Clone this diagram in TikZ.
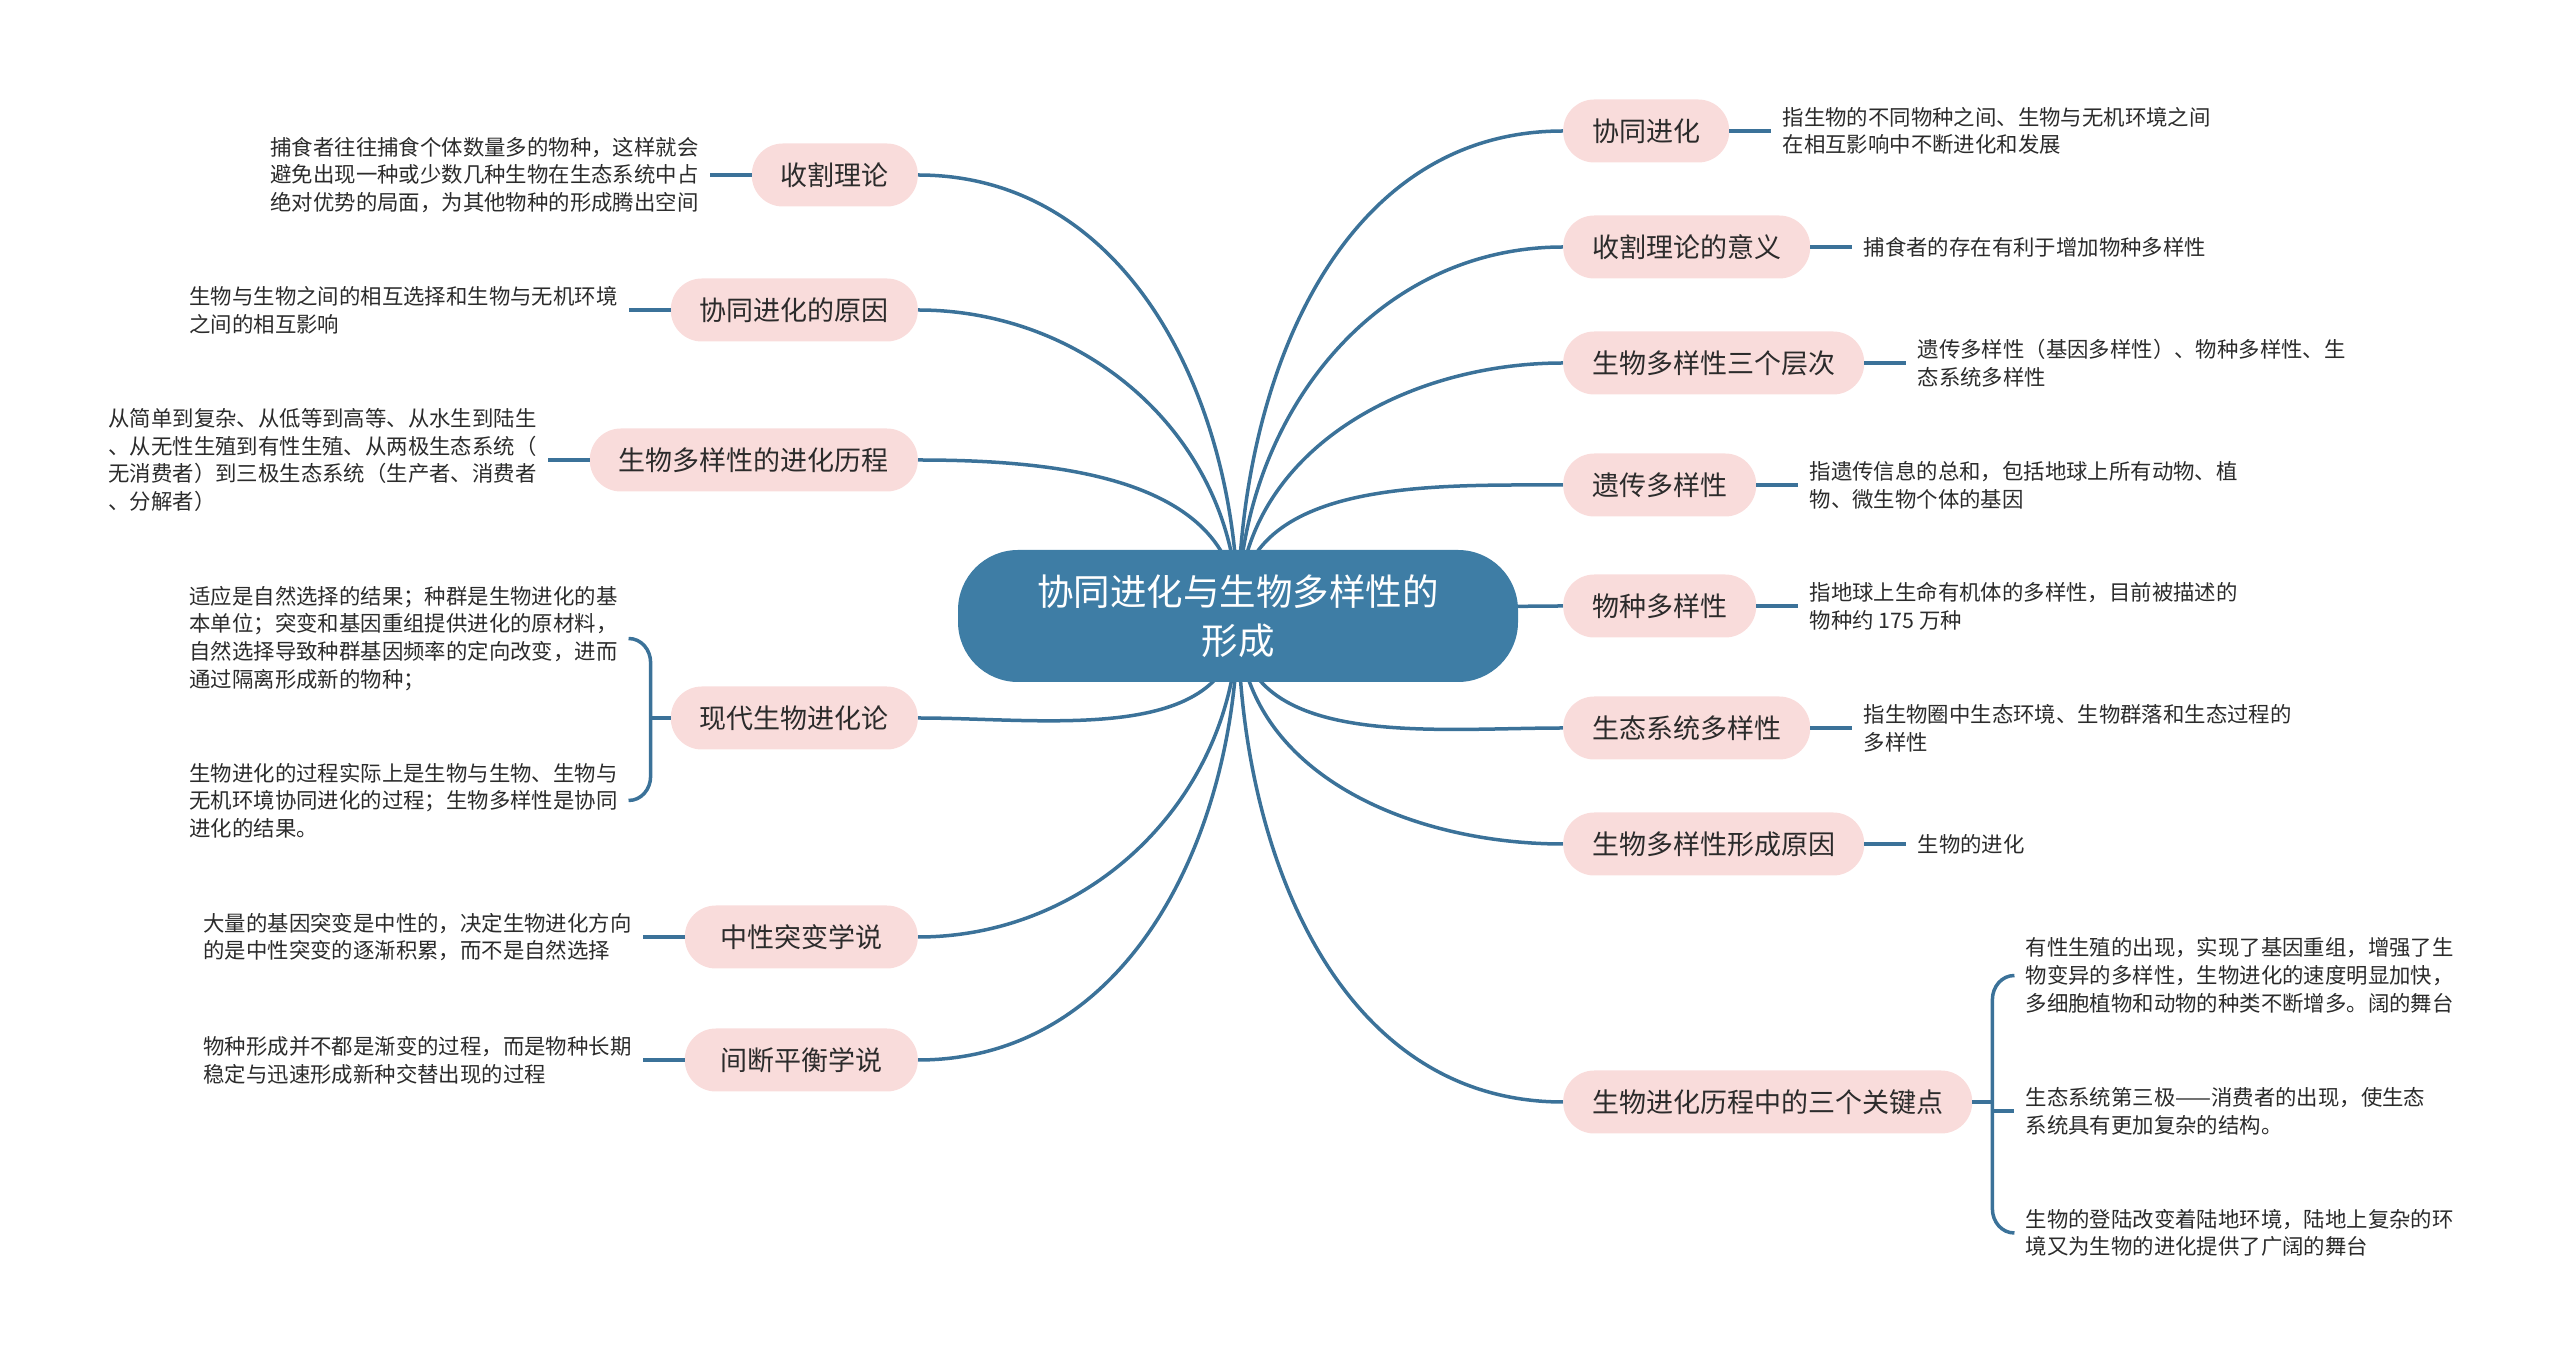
\documentclass[tikz,border=0pt]{standalone}
\usepackage{fontspec}
\setmainfont{Noto Sans CJK SC}
\usetikzlibrary{calc,backgrounds}

\definecolor{rootblue}{HTML}{3E7DA5}
\definecolor{linkblue}{HTML}{3B7299}
\definecolor{topicpink}{HTML}{F9DCDB}
\definecolor{ink}{HTML}{2B2B2B}

\begin{document}
\begin{tikzpicture}[
  x=1pt, y=1pt,
  root/.style={rectangle, rounded corners=60pt, fill=rootblue, text=white, minimum width=560pt, minimum height=132pt, align=center, font=\fontsize{36.5}{49}\selectfont},
  topic/.style={rectangle, rounded corners=31pt, fill=topicpink, text=ink, minimum height=63pt, inner xsep=29pt, inner ysep=0pt, font=\fontsize{27}{32}\selectfont},
  note/.style={align=left, text=ink, inner xsep=11pt, inner ysep=2pt, font=\fontsize{21.4}{27.7}\selectfont},
  link/.style={draw=linkblue, line width=3.5pt}
  ]
  \useasboundingbox (0,0) rectangle (2560,1361);

  \node[root] (c) at (1238,745) {协同进化与生物多样性的\\形成};

  % right side topics
  \node[topic, anchor=west] (r1) at (1563,1230) {协同进化};
  \node[topic, anchor=west] (r2) at (1563,1114) {收割理论的意义};
  \node[topic, anchor=west] (r3) at (1563,998) {生物多样性三个层次};
  \node[topic, anchor=west] (r4) at (1563,876) {遗传多样性};
  \node[topic, anchor=west] (r5) at (1563,755) {物种多样性};
  \node[topic, anchor=west] (r6) at (1563,633) {生态系统多样性};
  \node[topic, anchor=west] (r7) at (1563,517) {生物多样性形成原因};
  \node[topic, anchor=west] (r8) at (1563,259) {生物进化历程中的三个关键点};

  % left side topics
  \node[topic, anchor=east] (l1) at (918,1186) {收割理论};
  \node[topic, anchor=east] (l2) at (918,1051) {协同进化的原因};
  \node[topic, anchor=east] (l3) at (918,901) {生物多样性的进化历程};
  \node[topic, anchor=east] (l4) at (918,643) {现代生物进化论};
  \node[topic, anchor=east, minimum width=233pt] (l5) at (918,424) {中性突变学说};
  \node[topic, anchor=east, minimum width=233pt] (l6) at (918,301) {间断平衡学说};

  % notes on the right
  \node[note, anchor=west] (r1t) at ([shift={(42,0)}]r1.east) {指生物的不同物种之间、生物与无机环境之间\\在相互影响中不断进化和发展};
  \node[note, anchor=west] (r2t) at ([shift={(42,0)}]r2.east) {捕食者的存在有利于增加物种多样性};
  \node[note, anchor=west] (r3t) at ([shift={(42,0)}]r3.east) {遗传多样性（基因多样性）、物种多样性、生\\态系统多样性};
  \node[note, anchor=west] (r4t) at ([shift={(42,0)}]r4.east) {指遗传信息的总和，包括地球上所有动物、植\\物、微生物个体的基因};
  \node[note, anchor=west] (r5t) at ([shift={(42,0)}]r5.east) {指地球上生命有机体的多样性，目前被描述的\\物种约 175 万种};
  \node[note, anchor=west] (r6t) at ([shift={(42,0)}]r6.east) {指生物圈中生态环境、生物群落和生态过程的\\多样性};
  \node[note, anchor=west] (r7t) at ([shift={(42,0)}]r7.east) {生物的进化};

  % three notes of r8, held by a bracket
  \node[note, anchor=west] (r8a) at ([shift={(42,126.5)}]r8.east) {有性生殖的出现，实现了基因重组，增强了生\\物变异的多样性，生物进化的速度明显加快，\\多细胞植物和动物的种类不断增多。阔的舞台};
  \node[note, anchor=west] (r8b) at ([shift={(42,-9)}]r8.east) {生态系统第三极——消费者的出现，使生态\\系统具有更加复杂的结构。};
  \node[note, anchor=west] (r8c) at ([shift={(42,-131)}]r8.east) {生物的登陆改变着陆地环境，陆地上复杂的环\\境又为生物的进化提供了广阔的舞台};
  \coordinate (r8k) at ([shift={(20,0)}]r8.east);

  % notes on the left
  \node[note, anchor=east] (l1t) at ([shift={(-42,0)}]l1.west) {捕食者往往捕食个体数量多的物种，这样就会\\避免出现一种或少数几种生物在生态系统中占\\绝对优势的局面，为其他物种的形成腾出空间};
  \node[note, anchor=east] (l2t) at ([shift={(-42,0)}]l2.west) {生物与生物之间的相互选择和生物与无机环境\\之间的相互影响};
  \node[note, anchor=east] (l3t) at ([shift={(-42,0)}]l3.west) {从简单到复杂、从低等到高等、从水生到陆生\\、从无性生殖到有性生殖、从两极生态系统（\\无消费者）到三极生态系统（生产者、消费者\\、分解者）};
  \node[note, anchor=east] (l4a) at ([shift={(-42,79.5)}]l4.west) {适应是自然选择的结果；种群是生物进化的基\\本单位；突变和基因重组提供进化的原材料，\\自然选择导致种群基因频率的定向改变，进而\\通过隔离形成新的物种；};
  \node[note, anchor=east] (l4b) at ([shift={(-42,-82.5)}]l4.west) {生物进化的过程实际上是生物与生物、生物与\\无机环境协同进化的过程；生物多样性是协同\\进化的结果。};
  \coordinate (l4k) at ([shift={(-20,0)}]l4.west);
  \node[note, anchor=east] (l5t) at ([shift={(-42,0)}]l5.west) {大量的基因突变是中性的，决定生物进化方向\\的是中性突变的逐渐积累，而不是自然选择};
  \node[note, anchor=east] (l6t) at ([shift={(-42,0)}]l6.west) {物种形成并不都是渐变的过程，而是物种长期\\稳定与迅速形成新种交替出现的过程};

  % branches from the centre, kept under the root
  \begin{scope}[on background layer]
    \draw[link] (c.center) to[out=90, in=180] (r1.west);
    \draw[link] (c.center) to[out=90, in=180] (r2.west);
    \draw[link] (c.center) to[out=90, in=180] (r3.west);
    \draw[link] (c.center) to[out=90, in=180] (r4.west);
    \draw[link] (c.center) to[out=0, in=180] (r5.west);
    \draw[link] (c.center) to[out=270, in=180] (r6.west);
    \draw[link] (c.center) to[out=270, in=180] (r7.west);
    \draw[link] (c.center) to[out=270, in=180] (r8.west);

    \draw[link] (c.center) to[out=90, in=0] (l1.east);
    \draw[link] (c.center) to[out=90, in=0] (l2.east);
    \draw[link] (c.center) to[out=90, in=0] (l3.east);
    \draw[link] (c.center) to[out=270, in=0] (l4.east);
    \draw[link] (c.center) to[out=270, in=0] (l5.east);
    \draw[link] (c.center) to[out=270, in=0] (l6.east);
  \end{scope}

  % topic to note
  \draw[link] (r1.east) -- (r1t.west);
  \draw[link] (r2.east) -- (r2t.west);
  \draw[link] (r3.east) -- (r3t.west);
  \draw[link] (r4.east) -- (r4t.west);
  \draw[link] (r5.east) -- (r5t.west);
  \draw[link] (r6.east) -- (r6t.west);
  \draw[link] (r7.east) -- (r7t.west);

  \draw[link] (l1.west) -- (l1t.east);
  \draw[link] (l2.west) -- (l2t.east);
  \draw[link] (l3.west) -- (l3t.east);
  \draw[link] (l5.west) -- (l5t.east);
  \draw[link] (l6.west) -- (l6t.east);

  % brackets
  \draw[link] (r8.east) -- (r8k);
  \draw[link] (r8a.west) to[out=180, in=90] ($(r8a.west -| r8k)+(0,-24)$) -- ($(r8c.west -| r8k)+(0,24)$) to[out=270, in=180] (r8c.west);
  \draw[link] (r8k |- r8b.west) -- (r8b.west);

  \draw[link] (l4.west) -- (l4k);
  \draw[link] (l4a.east) to[out=0, in=90] ($(l4a.east -| l4k)+(0,-24)$) -- ($(l4b.east -| l4k)+(0,24)$) to[out=270, in=0] (l4b.east);

\end{tikzpicture}
\end{document}
